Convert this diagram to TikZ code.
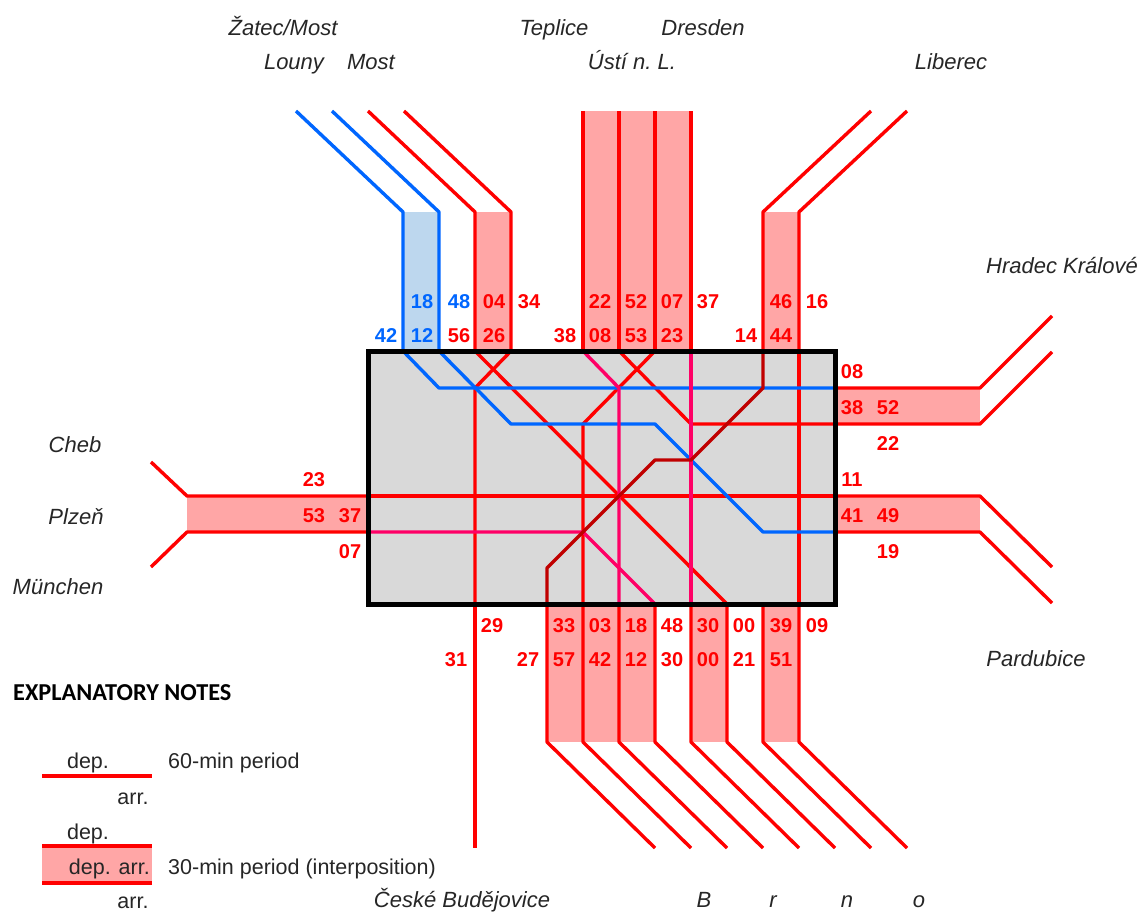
\documentclass[tikz,border=0pt]{standalone}
\usepackage{fontspec}
\setmainfont{Liberation Sans}
\newfontfamily\notefont{Carlito}

\tikzset{
    track/.style={line width=3.4pt,line join=round,color=trackred},
    trackblue/.style={track,color=trackb},
    trackpink/.style={track,color=trackp},
    trackdark/.style={track,color=trackd},
    timered/.style={inner sep=0pt,text height=14.5pt,text depth=0pt,text=trackred,font=\fontsize{20}{22}\selectfont\bfseries},
    timeblue/.style={timered,text=trackb},
    city/.style={inner sep=0pt,text height=16pt,text depth=0.5pt,font=\fontsize{22}{24}\selectfont\itshape,text=black!85},
    note/.style={inner sep=0pt,text height=16pt,text depth=0.5pt,font=\fontsize{21.5}{24}\selectfont,text=black!85},
}
\definecolor{trackred}{HTML}{FF0000}
\definecolor{trackb}{HTML}{0066FF}
\definecolor{trackp}{HTML}{FF0066}
\definecolor{trackd}{HTML}{C00000}
\definecolor{bandred}{HTML}{FFA6A6}
\definecolor{bandblue}{HTML}{BDD7EE}
\definecolor{hall}{HTML}{D9D9D9}

\begin{document}
\begin{tikzpicture}[x=1pt,y=-1pt]
        \useasboundingbox (0,0) rectangle (1141,913);

        % bands
        \fill[bandblue] (403,212) rectangle (439,351);
        \fill[bandred] (475,212) rectangle (511,351);
        \fill[bandred] (583,111) rectangle (691,351);
        \fill[bandred] (763,212) rectangle (799,351);
        \fill[bandred] (835,388) rectangle (980,424);
        \fill[bandred] (835,496) rectangle (980,532);
        \fill[bandred] (187,496) rectangle (368,532);
        \fill[bandred] (547,604) rectangle (655,742);
        \fill[bandred] (691,604) rectangle (727,742);
        \fill[bandred] (763,604) rectangle (799,742);
        \fill[bandred] (42,846) rectangle (152,883);

        \node (station) [fill=hall,minimum width=467pt,minimum height=253pt,inner sep=0pt] at (601.5,477.5) {};

        % north
        \draw[trackblue] (296,111) -- (403,212) -- (403,351);
        \draw[trackblue] (332,111) -- (439,212) -- (439,351);
        \draw[track] (368,111) -- (475,212) -- (475,351);
        \draw[track] (404,111) -- (511,212) -- (511,351);
        \draw[track] (583,111) -- (583,351);
        \draw[track] (619,111) -- (619,351);
        \draw[track] (655,111) -- (655,351);
        \draw[track] (691,111) -- (691,351);
        \draw[track] (871,111) -- (763,212) -- (763,351);
        \draw[track] (907,111) -- (799,212) -- (799,351);

        % east
        \draw[track] (835,388) -- (980,388) -- (1052,316);
        \draw[track] (835,424) -- (980,424) -- (1052,352);
        \draw[track] (835,496) -- (980,496) -- (1052,567);
        \draw[track] (835,532) -- (980,532) -- (1052,603);

        % west
        \draw[track] (368,496) -- (187,496) -- (151,462);
        \draw[track] (368,532) -- (187,532) -- (151,567);

        % south
        \draw[track] (475,604) -- (475,848);
        \draw[track] (547,604) -- (547,742) -- (655,848);
        \draw[track] (583,604) -- (583,742) -- (691,848);
        \draw[track] (619,604) -- (619,742) -- (727,848);
        \draw[track] (655,604) -- (655,742) -- (763,848);
        \draw[track] (691,604) -- (691,742) -- (799,848);
        \draw[track] (727,604) -- (727,742) -- (835,848);
        \draw[track] (763,604) -- (763,742) -- (871,848);
        \draw[track] (799,604) -- (799,742) -- (907,848);

        % inside the station
        \draw[track] (368,496) -- (835,496);
        \draw[track] (511,351) -- (475,388) -- (475,604);
        \draw[track] (475,351) -- (727,604);
        \draw[track] (655,351) -- (583,424) -- (583,604);
        \draw[track] (619,351) -- (691,424) -- (835,424);
        \draw[track] (799,351) -- (799,604);
        \draw[trackblue] (403,351) -- (439,388) -- (835,388);
        \draw[trackblue] (439,351) -- (511,424) -- (655,424) -- (763,532) -- (835,532);
        \draw[trackpink] (583,351) -- (619,388) -- (619,604);
        \draw[trackpink] (691,351) -- (691,604);
        \draw[trackpink] (368,532) -- (583,532) -- (655,604);
        \draw[trackdark] (763,351) -- (763,388) -- (691,460) -- (655,460) -- (547,568) -- (547,604);

        \node (stationframe) [draw=black,line width=5pt,minimum width=467pt,minimum height=253pt,inner sep=0pt] at (601.5,477.5) {};

        % times north
        \node (nt18) [timeblue] at (422,301) {18};
        \node (nt48) [timeblue] at (459,301) {48};
        \node (nt04) [timered] at (494,301) {04};
        \node (nt34) [timered] at (529,301) {34};
        \node (nt22) [timered] at (600,301) {22};
        \node (nt52) [timered] at (636,301) {52};
        \node (nt07) [timered] at (672,301) {07};
        \node (nt37) [timered] at (708,301) {37};
        \node (nt46) [timered] at (781,301) {46};
        \node (nt16) [timered] at (817,301) {16};
        \node (nb42) [timeblue] at (386,335) {42};
        \node (nb12) [timeblue] at (422,335) {12};
        \node (nb56) [timered] at (459,335) {56};
        \node (nb26) [timered] at (494,335) {26};
        \node (nb38) [timered] at (565,335) {38};
        \node (nb08) [timered] at (600,335) {08};
        \node (nb53) [timered] at (636,335) {53};
        \node (nb23) [timered] at (672,335) {23};
        \node (nb14) [timered] at (746,335) {14};
        \node (nb44) [timered] at (781,335) {44};

        % times east
        \node (e08) [timered] at (852,371) {08};
        \node (e38) [timered] at (852,407) {38};
        \node (e52) [timered] at (888,407) {52};
        \node (e22) [timered] at (888,443) {22};
        \node (e11) [timered] at (852,479) {11};
        \node (e41) [timered] at (852,515) {41};
        \node (e49) [timered] at (888,515) {49};
        \node (e19) [timered] at (888,551) {19};

        % times west
        \node (w23) [timered] at (314,479) {23};
        \node (w53) [timered] at (314,515) {53};
        \node (w37) [timered] at (350,515) {37};
        \node (w07) [timered] at (350,551) {07};

        % times south
        \node (st29) [timered] at (492,625) {29};
        \node (st33) [timered] at (564,625) {33};
        \node (st03) [timered] at (600,625) {03};
        \node (st18) [timered] at (636,625) {18};
        \node (st48) [timered] at (672,625) {48};
        \node (st30) [timered] at (708,625) {30};
        \node (st00) [timered] at (744,625) {00};
        \node (st39) [timered] at (781,625) {39};
        \node (st09) [timered] at (817,625) {09};
        \node (sb31) [timered] at (456,659) {31};
        \node (sb27) [timered] at (528,659) {27};
        \node (sb57) [timered] at (564,659) {57};
        \node (sb42) [timered] at (600,659) {42};
        \node (sb12) [timered] at (636,659) {12};
        \node (sb30) [timered] at (672,659) {30};
        \node (sb00) [timered] at (708,659) {00};
        \node (sb21) [timered] at (744,659) {21};
        \node (sb51) [timered] at (781,659) {51};

        % places
        \node (zatec) [city] at (283,28) {Žatec/Most};
        \node (louny) [city] at (294,62) {Louny};
        \node (most) [city] at (371,62) {Most};
        \node (teplice) [city] at (554,28) {Teplice};
        \node (dresden) [city] at (703,28) {Dresden};
        \node (usti) [city] at (632,62) {Ústí n.\hspace{-2pt} L.};
        \node (liberec) [city] at (951,62) {Liberec};
        \node (hradec) [city] at (1062,266) {Hradec Králové};
        \node (cheb) [city] at (75,445) {Cheb};
        \node (plzen) [city] at (76,517) {Plzeň};
        \node (munchen) [city] at (58,587) {München};
        \node (pardubice) [city] at (1036,659) {Pardubice};
        \node (budejovice) [city] at (462,900) {České Budějovice};
        \node (brnob) [city] at (704,900) {B};
        \node (brnor) [city] at (773,900) {r};
        \node (brnon) [city] at (847,900) {n};
        \node (brnoo) [city] at (919,900) {o};

        % notes
        \node (notes) [anchor=west,inner sep=0pt,font=\fontsize{24.3}{26}\selectfont\notefont\bfseries] at (13,693) {EXPLANATORY NOTES};
        \node (dep1) [note] at (88,761) {dep.};
        \node (arr1) [note] at (133,797) {arr.};
        \node (dep2) [note] at (88,832) {dep.};
        \node (deparr) [note,anchor=east] at (150,867) {dep. arr.};
        \node (arr2) [note] at (133,901) {arr.};
        \node (period60) [note,anchor=west] at (168,761) {60-min period};
        \node (period30) [note,anchor=west] at (168,867) {30-min period (interposition)};
        \draw[track] (42,776) -- (152,776);
        \draw[track] (42,846) -- (152,846);
        \draw[track] (42,883) -- (152,883);
    \end{tikzpicture}
\end{document}
